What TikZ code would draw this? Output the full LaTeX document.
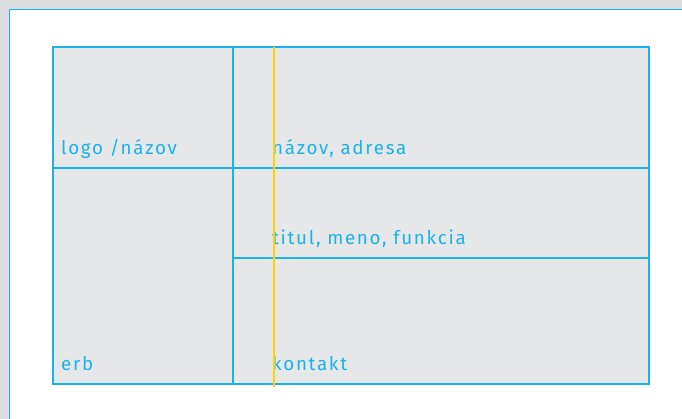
\documentclass[tikz,border=0pt]{standalone}
\usepackage{fontspec}
\setmainfont{Fira Sans}[LetterSpace=9]
\definecolor{bgout}{HTML}{DCDDDE}
\definecolor{boxfill}{HTML}{E6E7E9}
\definecolor{lineblue}{HTML}{1AB2EA}
\definecolor{mark}{HTML}{FFD200}
\tikzset{
  grid/.style={draw=lineblue, line width=1.4pt},
  lbl/.style={anchor=base west, inner sep=0pt, text=lineblue, font=\fontsize{18.8}{22}\selectfont},
  guide/.style={draw=mark, line width=2.2pt}
}
\begin{document}
\begin{tikzpicture}[x=1pt,y=-1pt]
\useasboundingbox (0,0) rectangle (682,419);
\fill[bgout] (0,0) rectangle (682,419);
\fill[white] (9.5,9.5) rectangle (682,419);
\draw[lineblue, line width=1.4pt] (9.5,419) -- (9.5,9.5) -- (682,9.5);
\path[fill=boxfill, grid] (53,47) rectangle (649,384);
\coordinate (vtop) at (233,47);
\coordinate (vbot) at (233,384);
\coordinate (h1l) at (53,168);
\coordinate (h1r) at (649,168);
\coordinate (h2l) at (233,258);
\coordinate (h2r) at (649,258);
\draw[grid] (vtop) -- (vbot);
\draw[grid] (h1l) -- (h1r);
\draw[grid] (h2l) -- (h2r);
\node[lbl] (logo) at (61,154.5) {logo /názov};
\node[lbl] (nazov) at (272,154.5) {názov, adresa};
\node[lbl] (titul) at (272,245) {titul, meno, funkcia};
\node[lbl] (erb) at (61,370.5) {erb};
\node[lbl] (kontakt) at (272,370.5) {kontakt};
\coordinate (ytop) at (274,47);
\coordinate (ybot) at (274,387);
\draw[guide] (ytop) -- (ybot);
\end{tikzpicture}
\end{document}
